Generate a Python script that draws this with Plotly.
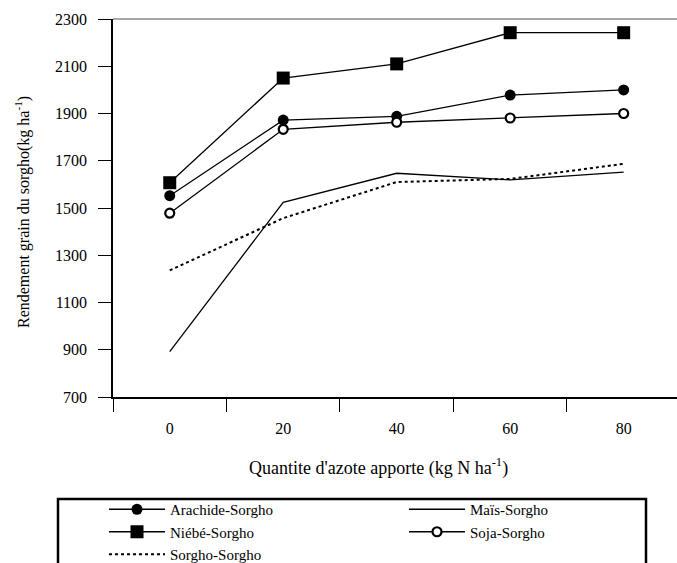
import plotly.graph_objects as go

doses = ["0", "20", "40", "60", "80"]
arachide = [1552, 1872, 1888, 1978, 2000]
mais = [892, 1524, 1647, 1619, 1652]
niebe = [1607, 2050, 2110, 2242, 2242]
soja = [1478, 1833, 1863, 1881, 1900]
sorgho = [1236, 1457, 1610, 1623, 1687]
y_ticks = [700, 900, 1100, 1300, 1500, 1700, 1900, 2100, 2300]

FONT = "Liberation Serif"
W, H = 677, 563
L, R, T, B = 113, 0, 19, 166
pw = W - L - R
ph = H - T - B

fig = go.Figure()
fig.add_trace(go.Scatter(x=doses, y=arachide, name="Arachide-Sorgho", mode="lines+markers",
                         line=dict(color="black", width=1.3),
                         marker=dict(symbol="circle", size=11, color="black")))
fig.add_trace(go.Scatter(x=doses, y=mais, name="Maïs-Sorgho", mode="lines",
                         line=dict(color="black", width=1.3)))
fig.add_trace(go.Scatter(x=doses, y=niebe, name="Niébé-Sorgho", mode="lines+markers",
                         line=dict(color="black", width=1.3),
                         marker=dict(symbol="square", size=13, color="black")))
fig.add_trace(go.Scatter(x=doses, y=soja, name="Soja-Sorgho", mode="lines+markers",
                         line=dict(color="black", width=1.3),
                         marker=dict(symbol="circle", size=9, color="white",
                                     line=dict(color="black", width=2.2))))
fig.add_trace(go.Scatter(x=doses, y=sorgho, name="Sorgho-Sorgho", mode="lines",
                         line=dict(color="black", width=2, dash="dot")))

def px_x(px):
    return (px - L) / pw

def px_y(py):
    return (H - B - py) / ph

fig.update_layout(
    width=W, height=H,
    margin=dict(l=L, r=R, t=T, b=B, autoexpand=False),
    paper_bgcolor="white", plot_bgcolor="white",
    font=dict(family=FONT, size=16, color="black"),
    xaxis=dict(type="category", range=[-0.5, 4.47], tickson="boundaries",
               ticks="outside", ticklen=13, tickwidth=1.3, tickcolor="black",
               showline=True, linecolor="black", linewidth=1.5,
               showgrid=False, zeroline=False, ticklabelstandoff=16,
               tickfont=dict(family=FONT, size=16)),
    yaxis=dict(range=[700, 2300], tickvals=y_ticks,
               ticks="outside", ticklen=13, tickwidth=1.3, tickcolor="black",
               showline=True, linecolor="black", linewidth=1.5,
               showgrid=False, zeroline=False, ticklabelstandoff=8,
               tickfont=dict(family=FONT, size=16)),
    showlegend=True,
    legend=dict(orientation="h", x=px_x(104), y=px_y(493), xanchor="left", yanchor="top",
                borderwidth=0, bgcolor="rgba(0,0,0,0)",
                font=dict(family=FONT, size=15),
                itemwidth=56, entrywidth=229, entrywidthmode="pixels",
                tracegroupgap=0, maxheight=300),
    shapes=[
        dict(type="line", xref="paper", yref="paper", x0=0, x1=1, y0=1, y1=1,
             line=dict(color="#a8a8a8", width=2)),
        dict(type="rect", xref="paper", yref="paper",
             x0=px_x(58), x1=px_x(646), y0=px_y(499), y1=px_y(620),
             line=dict(color="black", width=2.5), fillcolor="rgba(0,0,0,0)"),
    ],
    annotations=[
        dict(text="Quantite d'azote apporte (kg N ha<sup>-1</sup>)", xref="paper", yref="paper",
             x=px_x(378), y=px_y(467), showarrow=False, xanchor="center", yanchor="middle",
             font=dict(family=FONT, size=18)),
        dict(text="Rendement grain du sorgho(kg ha<sup>-1</sup>)", xref="paper", yref="paper",
             x=px_x(22), y=px_y(212), showarrow=False, xanchor="center", yanchor="middle",
             textangle=-90, font=dict(family=FONT, size=16)),
    ],
)

fig.write_html("out.html")
